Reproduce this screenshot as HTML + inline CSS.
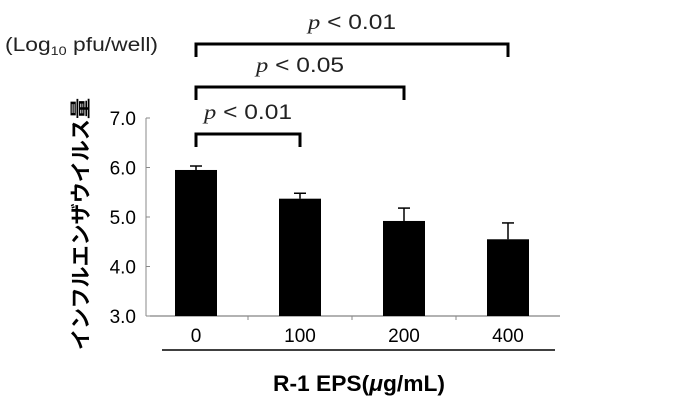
<!DOCTYPE html>
<html><head><meta charset="utf-8"><style>
body{margin:0;background:#fff;width:700px;height:415px;overflow:hidden}
svg text{font-family:"Liberation Sans","Noto Sans CJK JP",sans-serif}
</style></head><body>
<svg width="700" height="415" id="c">
<text x="5" y="51" font-size="19" fill="#222" textLength="153" lengthAdjust="spacingAndGlyphs">(Log<tspan font-size="12" dy="4">10</tspan><tspan dy="-4"> pfu/well)</tspan></text>
<text transform="translate(88,224) rotate(-90)" text-anchor="middle" font-size="21" font-weight="bold" textLength="252" lengthAdjust="spacingAndGlyphs">インフルエンザウイルス量</text>
<text x="359" y="391" text-anchor="middle" font-size="22" font-weight="bold" textLength="172" lengthAdjust="spacingAndGlyphs">R-1 EPS(<tspan font-style="italic">μ</tspan>g/mL)</text>
<line x1="162" y1="350" x2="555" y2="350" stroke="#000" stroke-width="1.5"/>
<g id="g"></g>
</svg>
<script>
const categories=["0","100","200","400"];
const values=[5.95,5.37,4.92,4.55];
const errors=[0.08,0.11,0.26,0.33];
const yTicks=[3.0,4.0,5.0,6.0,7.0];
const sigPairs=[[0,3],[0,2],[0,1]];
const sigLabels=["p < 0.01","p < 0.05","p < 0.01"];
const NS="http://www.w3.org/2000/svg",g=document.getElementById('g');
const x0=146,xEnd=560,step=104,bw=42;
const y=v=>316-(v-3)*49.5;
const xc=i=>196+i*step;
function mk(t,a,p){const e=document.createElementNS(NS,t);for(const k in a)e.setAttribute(k,a[k]);(p||g).appendChild(e);return e;}
let e=mk('line',{x1:x0,y1:y(3),x2:xEnd,y2:y(3),stroke:'#666'});


e=mk('line',{x1:x0,y1:y(3),x2:x0,y2:y(7),stroke:'#888'});


yTicks.forEach(t=>{
 mk('line',{x1:x0,y1:y(t),x2:x0+4,y2:y(t),stroke:'#888'});
 e=mk('text',{x:x0-10,y:y(t)+7,'text-anchor':'end','font-size':19});e.textContent=t.toFixed(1);
 
 
});
categories.forEach((c,i)=>{
 if(i>0)mk('line',{x1:xc(i)-step/2,y1:y(3),x2:xc(i)-step/2,y2:y(3)+4,stroke:'#888'});
 const top=y(values[i]+errors[i]);
 mk('line',{x1:xc(i),y1:y(values[i]),x2:xc(i),y2:top,stroke:'#000','stroke-width':1.5});
 mk('line',{x1:xc(i)-6,y1:top,x2:xc(i)+6,y2:top,stroke:'#000','stroke-width':1.5});
 e=mk('rect',{x:xc(i)-bw/2,y:y(values[i]),width:bw,height:y(3)-y(values[i]),fill:'#000'});
 
 
 e=mk('text',{x:xc(i),y:342,'text-anchor':'middle','font-size':19});e.textContent=c;
 
 
});
const by=[44,87,134];
sigPairs.forEach((p,k)=>{
 const a=xc(p[0]),b=xc(p[1]),yy=by[k];
 e=mk('path',{d:`M${a},${yy+13}V${yy}H${b}V${yy+13}`,fill:'none',stroke:'#000','stroke-width':3});
 
 
 e=mk('text',{x:(a+b)/2,y:yy-15,'text-anchor':'middle','font-size':21,fill:'#222',textLength:88,lengthAdjust:'spacingAndGlyphs'});
 const parts=sigLabels[k].split(' ');
 e.innerHTML=`<tspan font-style="italic" font-family="Liberation Serif">${parts[0]}</tspan> ${parts[1]} ${parts[2]}`;
 
 
});
</script>
</body></html>
